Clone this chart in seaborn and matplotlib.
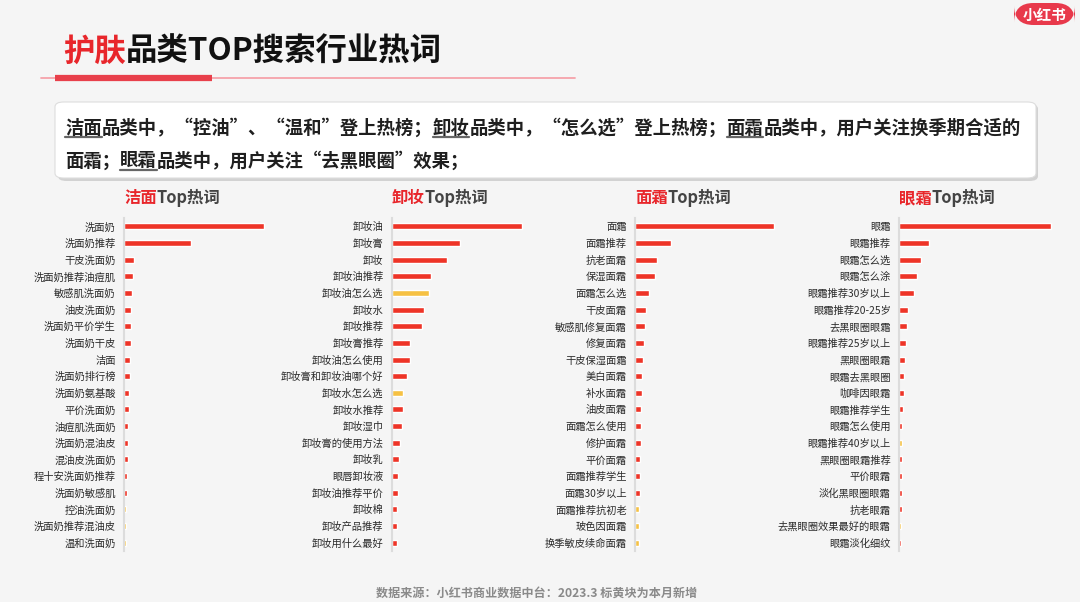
import matplotlib
matplotlib.use("Agg")
import matplotlib.pyplot as plt
from matplotlib.patches import FancyBboxPatch
from matplotlib.lines import Line2D
from matplotlib.text import Annotation
import seaborn as sns

# ---------------- data (relative search heat) ----------------
cleanser_terms = ["洗面奶", "洗面奶推荐", "干皮洗面奶", "洗面奶推荐油痘肌", "敏感肌洗面奶", "油皮洗面奶",
                  "洗面奶平价学生", "洗面奶干皮", "洁面", "洗面奶排行榜", "洗面奶氨基酸", "平价洗面奶",
                  "油痘肌洗面奶", "洗面奶混油皮", "混油皮洗面奶", "程十安洗面奶推荐", "洗面奶敏感肌",
                  "控油洗面奶", "洗面奶推荐混油皮", "温和洗面奶"]
cleanser_vals = [140, 67, 10.3, 8.7, 7.7, 7.3, 6.7, 6.7, 5.7, 5.7, 5.0, 4.7, 4.3, 3.7, 3.7, 3.3, 3.0,
                 2.3, 2.3, 2.3]
cleanser_new = [0] * 17 + [1, 1, 1]

remover_terms = ["卸妆油", "卸妆膏", "卸妆", "卸妆油推荐", "卸妆油怎么选", "卸妆水", "卸妆推荐", "卸妆膏推荐",
                 "卸妆油怎么使用", "卸妆膏和卸妆油哪个好", "卸妆水怎么选", "卸妆水推荐", "卸妆湿巾",
                 "卸妆膏的使用方法", "卸妆乳", "眼唇卸妆液", "卸妆油推荐平价", "卸妆棉", "卸妆产品推荐",
                 "卸妆用什么最好"]
remover_vals = [130.3, 67.7, 55, 39, 37, 31.7, 30.3, 18.3, 17.7, 14.7, 11.3, 11.3, 9.7, 8.0, 7.3, 6.3,
                6.0, 5.3, 5.3, 5.3]
remover_new = [0, 0, 0, 0, 1, 0, 0, 0, 0, 0, 1, 0, 0, 0, 0, 0, 0, 0, 0, 0]

cream_terms = ["面霜", "面霜推荐", "抗老面霜", "保湿面霜", "面霜怎么选", "干皮面霜", "敏感肌修复面霜", "修复面霜",
               "干皮保湿面霜", "美白面霜", "补水面霜", "油皮面霜", "面霜怎么使用", "修护面霜", "平价面霜",
               "面霜推荐学生", "面霜30岁以上", "面霜推荐抗初老", "玻色因面霜", "换季敏皮续命面霜"]
cream_vals = [138.7, 36, 21.7, 19.7, 14, 10.7, 9.7, 9.0, 8.0, 6.7, 6.7, 6.3, 5.7, 5.7, 5.3, 5.3, 5.0,
              4.3, 4.3, 4.0]
cream_new = [0] * 17 + [1, 1, 1]

eye_terms = ["眼霜", "眼霜推荐", "眼霜怎么选", "眼霜怎么涂", "眼霜推荐30岁以上", "眼霜推荐20-25岁", "去黑眼圈眼霜",
             "眼霜推荐25岁以上", "黑眼圈眼霜", "眼霜去黑眼圈", "咖啡因眼霜", "眼霜推荐学生", "眼霜怎么使用",
             "眼霜推荐40岁以上", "黑眼圈眼霜推荐", "平价眼霜", "淡化黑眼圈眼霜", "抗老眼霜",
             "去黑眼圈效果最好的眼霜", "眼霜淡化细纹"]
eye_vals = [152, 30, 22.3, 17.7, 15, 9.0, 7.7, 6.7, 5.7, 5.3, 4.7, 3.7, 3.3, 3.0, 3.0, 2.7, 2.7, 2.7,
            2.3, 2.3]
eye_new = [0] * 13 + [1, 0, 0, 0, 0, 1, 0]

panel_names = ["洁面", "卸妆", "面霜", "眼霜"]

title_red = "护肤"
title_rest = "品类TOP搜索行业热词"
summary_line1 = ["洁面", "品类中，“控油”、“温和”登上热榜；", "卸妆", "品类中，“怎么选”登上热榜；", "面霜",
                 "品类中，用户关注换季期合适的"]
summary_line2 = ["面霜；", "眼霜", "品类中，用户关注“去黑眼圈”效果；"]
footer = "数据来源：小红书商业数据中台：2023.3 标黄块为本月新增"
logo = "小红书"

# ---------------- style ----------------
RED = "#EE3427"
YELLOW = "#F6C143"
W, H = 1080, 602

sns.set_theme(style="white")
plt.rcParams["font.family"] = ["Noto Sans CJK SC", "DejaVu Sans"]

fig = plt.figure(figsize=(W / 100, H / 100), dpi=100)
fig.patch.set_facecolor("#F5F5F5")


def fx(px):
    return px / W


def fy(py):
    return 1 - py / H


# ---------------- header ----------------
t1 = fig.text(fx(63), fy(52), title_red, color="#E8262B", fontsize=22.6, fontweight="bold",
              va="center", ha="left")
fig.add_artist(Annotation(title_rest, xy=(1, 0), xycoords=t1, va="bottom", ha="left",
                          color="#111111", fontsize=22.6, fontweight="bold"))

fig.add_artist(Line2D([fx(41), fx(575)], [fy(78), fy(78)], color="#F5A3AA", lw=1.3))
fig.add_artist(Line2D([fx(55), fx(212)], [fy(78), fy(78)], color="#E8404B", lw=4.5,
                      solid_capstyle="butt"))

# logo pill
fig.add_artist(FancyBboxPatch((fx(1014), fy(25)), fx(61), 22 / H,
                              boxstyle="round,pad=0.0,rounding_size=0.018",
                              transform=fig.transFigure, facecolor="#E8394B", edgecolor="none",
                              mutation_aspect=W / H))
fig.text(fx(1044.5), fy(14.5), logo, color="white", fontsize=10.5, fontweight="bold",
         ha="center", va="center")

# summary box
shadow = FancyBboxPatch((fx(58), fy(181)), fx(980), (181 - 104) / H,
                        boxstyle="round,pad=0,rounding_size=0.008", transform=fig.transFigure,
                        facecolor="#BBBBBB", edgecolor="none", alpha=0.6)
fig.add_artist(shadow)
box = FancyBboxPatch((fx(55), fy(178)), fx(981), (178 - 102) / H,
                     boxstyle="round,pad=0,rounding_size=0.008", transform=fig.transFigure,
                     facecolor="white", edgecolor="#DDDDDD", lw=0.8)
fig.add_artist(box)

TXT = dict(fontsize=13.2, color="#1f1f1f", fontweight="bold")


def chain(segments, x0, y0, underline_idx):
    first = fig.text(fx(x0), fy(y0), segments[0], va="center", ha="left", **TXT)
    arts = [first]
    prev = first
    for s in segments[1:]:
        a = Annotation(s, xy=(1, 0), xycoords=prev, va="bottom", ha="left", **TXT)
        fig.add_artist(a)
        arts.append(a)
        prev = a
    return [arts[i] for i in underline_idx]


ul = chain(summary_line1, 65, 128, [0, 2, 4])
ul += chain(summary_line2, 65, 161, [1])

# ---------------- panels ----------------
panels = [
    (cleanser_terms, cleanser_vals, cleanser_new, 124),
    (remover_terms, remover_vals, remover_new, 392),
    (cream_terms, cream_vals, cream_new, 635),
    (eye_terms, eye_vals, eye_new, 899),
]
ax_top, ax_bot = 218, 551
for (terms, vals, new, x_left), name in zip(panels, panel_names):
    ax = fig.add_axes([fx(x_left), fy(ax_bot), fx(165), (ax_bot - ax_top) / H])
    ax.set_facecolor("none")
    colors = [YELLOW if n else RED for n in new]
    sns.barplot(x=vals, y=terms, hue=terms, palette=colors, legend=False, dodge=False,
                orient="h", width=0.36, ax=ax, saturation=1)
    ax.set_xlim(0, 165)
    ax.set_ylim(len(terms) - 0.5, -0.5)
    ax.set_xticks([])
    ax.set_xlabel("")
    ax.set_ylabel("")
    for s in ["top", "right", "bottom"]:
        ax.spines[s].set_visible(False)
    ax.spines["left"].set_color("#DCDCDC")
    ax.spines["left"].set_linewidth(1.5)
    ax.tick_params(axis="y", length=0, pad=6, labelsize=7.4, labelcolor="#2a2a2a")
    # panel title
    pt = fig.text(fx(x_left), fy(198), name, color="#E8262B", fontsize=11.8, fontweight="bold",
                  va="center", ha="left")
    fig.add_artist(Annotation("Top热词", xy=(1, 0), xycoords=pt, va="bottom", ha="left",
                              color="#444444", fontsize=11.8, fontweight="bold"))

# footer
fig.text(fx(537), fy(593), footer, color="#8A8A8A", fontsize=8.7, fontweight="bold",
         ha="center", va="center")

# underlines under category names in the summary
fig.canvas.draw()
r = fig.canvas.get_renderer()
for a in ul:
    bb = a.get_window_extent(r)
    fig.add_artist(Line2D([bb.x0 / W, bb.x1 / W], [(bb.y0 + 1) / H, (bb.y0 + 1) / H],
                          color="#666666", lw=1.6))

fig.savefig("out.png", dpi=100, facecolor=fig.get_facecolor())
